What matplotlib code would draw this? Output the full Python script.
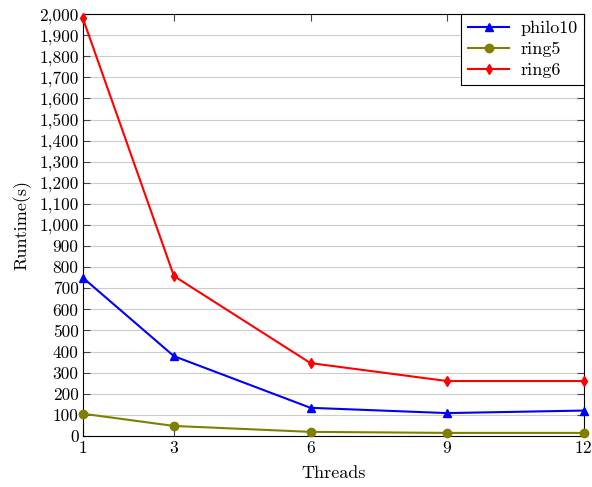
import matplotlib.pyplot as plt
from matplotlib.ticker import FuncFormatter

plt.rcParams['font.family'] = 'cmr10'
plt.rcParams['axes.formatter.use_mathtext'] = True

# data
threads = [1, 3, 6, 9, 12]
philo10 = [750, 378, 133, 108, 120]
ring5 = [105, 47, 19, 14, 14]
ring6 = [1980, 758, 345, 260, 260]

fig = plt.figure(figsize=(5.92, 4.87), dpi=100)
ax = fig.add_axes([0.140, 0.105, 0.846, 0.866])

ax.plot(threads, philo10, color='blue', marker='^', markersize=6, linewidth=1.5,
        label='philo10', clip_on=False, zorder=3)
ax.plot(threads, ring5, color='#808000', marker='o', markersize=6, linewidth=1.5,
        label='ring5', clip_on=False, zorder=3)
ax.plot(threads, ring6, color='red', marker='d', markersize=5, linewidth=1.5,
        label='ring6', clip_on=False, zorder=3)

ax.set_xlim(1, 12)
ax.set_ylim(0, 2000)
ax.set_xticks(threads)
ax.set_yticks(range(0, 2001, 100))
ax.yaxis.set_major_formatter(FuncFormatter(lambda v, p: '{:,}'.format(int(v))))
ax.grid(axis='y', color='#cccccc', linewidth=0.8)
ax.set_axisbelow(True)
ax.tick_params(direction='in', top=True, right=True, labelsize=12.5, length=5,
               color='#444444', pad=3)
for s in ax.spines.values():
    s.set_linewidth(0.8)

ax.set_xlabel('Threads', fontsize=13, labelpad=7)
ax.set_ylabel('Runtime(s)', fontsize=13, labelpad=6)

leg = ax.legend(loc='upper right', fontsize=13, fancybox=False, edgecolor='black',
                framealpha=1, borderaxespad=0.0, handlelength=2.3,
                borderpad=0.35, labelspacing=0.3, handletextpad=0.6)
leg.get_frame().set_linewidth(0.8)

plt.savefig('out.png', dpi=100)
